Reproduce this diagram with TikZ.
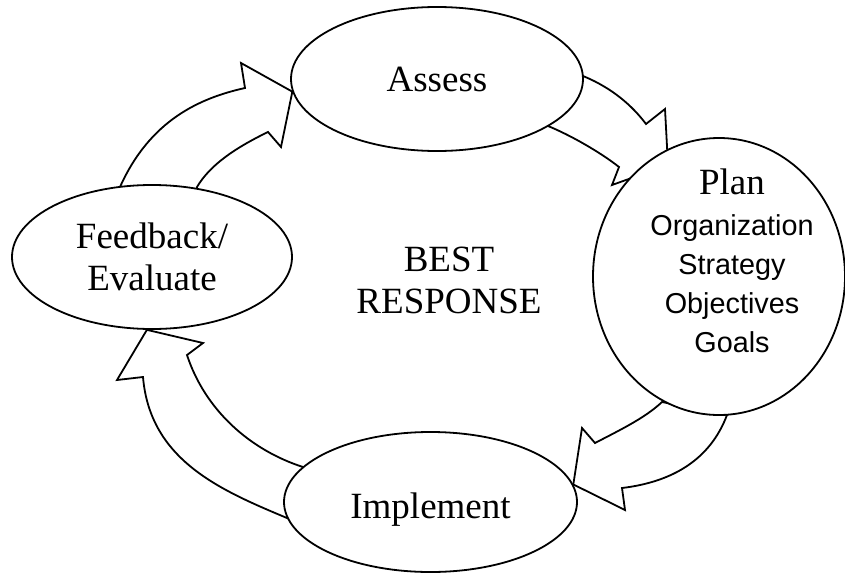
\documentclass[tikz,border=0pt]{standalone}
\usepackage{fontspec}
\setmainfont{Liberation Serif}
\setsansfont{Liberation Sans}
\usetikzlibrary{shapes.geometric,backgrounds}
\tikzstyle{stage} = [ellipse, draw, fill=white, line width=0.9pt, inner sep=0pt, align=center, font=\fontsize{18.5}{21}\selectfont]
\tikzstyle{bigarrow} = [draw, fill=white, line width=0.9pt, line join=miter]
\begin{document}
\begin{tikzpicture}[x=0.5pt,y=-0.5pt]
\useasboundingbox (0,0) rectangle (845,573);
\node[stage,minimum width=146pt,minimum height=72pt] (assess) at (437,79) {Assess};
\node[stage,minimum width=126pt,minimum height=138.5pt] (plan) at (719,276.5) {};
\node[font=\fontsize{18.5}{21}\selectfont] (planhd) at (732,182) {Plan};
\node[align=center,font=\sffamily\fontsize{14.4}{19.5}\selectfont] (planlist) at (732,284) {Organization\\Strategy\\Objectives\\Goals};
\node[stage,minimum width=146.5pt,minimum height=70pt,text height=20pt] (implement) at (430.5,502) {Implement};
\node[stage,minimum width=140pt,minimum height=72pt] (feedback) at (152,257) {Feedback/\\Evaluate};
\node[align=center,font=\fontsize{18.5}{21}\selectfont] (best) at (449,280) {BEST\\RESPONSE};
\begin{pgfonlayer}{background}
% feedback to assess
\draw[bigarrow] (195,200) -- (197,187) .. controls (210,165) and (235,148) .. (268,132) -- (281,147) -- (assess.185) -- (241,63) -- (245,88) .. controls (200,98) and (150,120) .. (120,187) -- (117,200) -- cycle;
% assess to plan
\draw[bigarrow] (548,126) .. controls (570,135) and (600,152) .. (619,167) -- (612,185) -- (668,165) -- (665,109) -- (646,124) .. controls (628,100) and (605,85) .. (583,76) -- cycle;
% plan to implement
\draw[bigarrow] (662,402) .. controls (645,418) and (620,430) .. (595,443) -- (582,428) -- (implement.7) -- (625,510) -- (622,488) .. controls (672,482) and (710,460) .. (727,415) -- cycle;
% implement to feedback
\draw[bigarrow] (303,467) .. controls (250,450) and (205,410) .. (187,355) -- (203,343) -- (feedback.266) -- (117,380) -- (143,377) .. controls (150,460) and (220,490) .. (287,518) -- cycle;
\end{pgfonlayer}
\end{tikzpicture}
\end{document}
